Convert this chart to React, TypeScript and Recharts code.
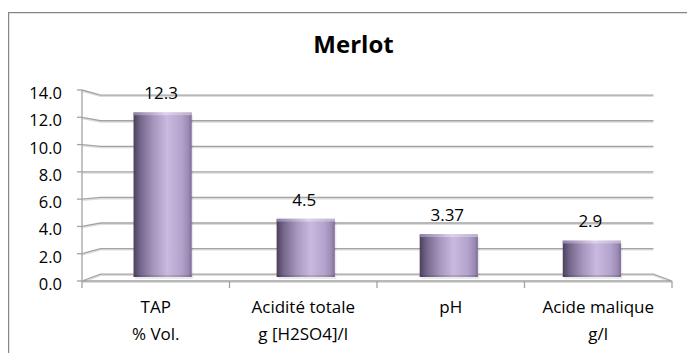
import React from 'react';
import { BarChart, Bar, XAxis, YAxis, CartesianGrid, LabelList } from 'recharts';

// ---- data ----
const categoryLine1 = ['TAP', 'Acidité totale', 'pH', 'Acide malique'];
const categoryLine2 = ['% Vol.', 'g [H2SO4]/l', '', 'g/l'];
const values = [12.3, 4.5, 3.37, 2.9];
const valueLabels = ['12.3', '4.5', '3.37', '2.9'];
const yTicks = [0, 2, 4, 6, 8, 10, 12, 14];
const title = 'Merlot';

const data = categoryLine1.map((c, i) => ({ name: c, sub: categoryLine2[i], value: values[i], label: valueLabels[i] }));

// ---- layout ----
const W = 687;
const H = 345;
const YW = 74;
const XH = 60;
const MARGIN = { top: 82, right: 23, bottom: 12, left: 0 };
const PLOT_L = MARGIN.left + YW;
const PLOT_R = W - MARGIN.right;
const PLOT_T = MARGIN.top;
const PLOT_B = H - MARGIN.bottom - XH;
const VPX = (PLOT_L + PLOT_R) / 2;
const VPY = PLOT_T + 0.43 * (PLOT_B - PLOT_T);
const K_BACK = 0.937;
const K_BAR = 0.97;
const K_BAR_BOTTOM = 0.963;
const FONT = '"Open Sans", "DejaVu Sans", sans-serif';
const GRID = '#a3a3a3';

const persp = (x: number, y: number, k: number): [number, number] => [VPX + k * (x - VPX), VPY + k * (y - VPY)];

const GridLine = (p: any) => {
  const { x1, x2, y1 } = p;
  const [bx1, by] = persp(x1, y1, K_BACK);
  const [bx2] = persp(x2, y1, K_BACK);
  const isFloor = Math.abs(y1 - PLOT_B) < 0.5;
  const d = isFloor
    ? `M${x1},${y1}L${bx1},${by}L${bx2},${by}L${x2},${y1}Z`
    : `M${x1},${y1}L${bx1},${by}L${bx2},${by}`;
  return (
    <g key={p.key ?? `g${y1}`}>
      <path d={d} transform="translate(0,1.3)" stroke="#dcdcdc" strokeWidth={1.3} fill="none" />
      <path d={d} stroke={GRID} strokeWidth={1.3} fill="none" />
    </g>
  );
};

const BarShape = (p: any) => {
  const { x, y, width, height } = p;
  if (width == null || height == null) return null;
  const cx = x + width / 2;
  const [pcx] = persp(cx, y, K_BAR);
  const w = width * K_BAR;
  const bottom = persp(cx, y + height, K_BAR_BOTTOM)[1];
  const left = pcx - w / 2;
  return (
    <g>
      <rect x={left + 1.5} y={y + 2} width={w} height={bottom - y} fill="#000" opacity={0.08} />
      <rect x={left} y={y} width={w} height={bottom - y} fill="url(#barGrad)" />
      <rect x={left} y={y - 1} width={w} height={3} fill="url(#topGrad)" />
      <rect x={left} y={bottom - 2} width={w} height={2} fill="#000" opacity={0.12} />
    </g>
  );
};

const ValueLabel = (p: any) => {
  const { x, y, width, value } = p;
  const [cx] = persp(x + width / 2, y, K_BAR);
  return (
    <text x={cx - 1.5} y={y - 14} textAnchor="middle" fontFamily={FONT} fontSize={17} fill="#000">
      {value}
    </text>
  );
};

const XTick = (p: any) => {
  const { x, payload, index } = p;
  const half = (PLOT_R - PLOT_L) / categoryLine1.length / 2;
  const i = index ?? categoryLine1.indexOf(payload.value);
  return (
    <g>
      <line x1={x - half} x2={x - half} y1={PLOT_B} y2={PLOT_B + 7} stroke={GRID} strokeWidth={1.3} />
      {i === categoryLine1.length - 1 && (
        <line x1={x + half} x2={x + half} y1={PLOT_B} y2={PLOT_B + 7} stroke={GRID} strokeWidth={1.3} />
      )}
      <text x={x} y={PLOT_B + 32} textAnchor="middle" fontFamily={FONT} fontSize={17} fill="#000">
        {categoryLine1[i]}
      </text>
      {categoryLine2[i] !== '' && (
        <text x={x} y={PLOT_B + 59} textAnchor="middle" fontFamily={FONT} fontSize={17} fill="#000">
          {categoryLine2[i]}
        </text>
      )}
    </g>
  );
};

const YTick = (p: any) => {
  const { x, y, payload } = p;
  return (
    <text x={x} y={y + 9} textAnchor="end" fontFamily={FONT} fontSize={16.5} fill="#000">
      {Number(payload.value).toFixed(1)}
    </text>
  );
};

export default function App() {
  return (
    <div style={{ position: 'relative', width: W, height: H, overflow: 'hidden', background: '#fff' }}>
      <BarChart width={W} height={H} data={data} margin={MARGIN} barSize={60}>
        <defs>
          <linearGradient id="barGrad" x1="0" y1="0" x2="1" y2="0">
            <stop offset="0%" stopColor="#4b405c" />
            <stop offset="12%" stopColor="#75678b" />
            <stop offset="35%" stopColor="#a797bf" />
            <stop offset="58%" stopColor="#c9b9df" />
            <stop offset="82%" stopColor="#b4a3cc" />
            <stop offset="94%" stopColor="#9c8bb4" />
            <stop offset="100%" stopColor="#7e6e96" />
          </linearGradient>
          <linearGradient id="topGrad" x1="0" y1="0" x2="1" y2="0">
            <stop offset="0%" stopColor="#8e80a3" />
            <stop offset="55%" stopColor="#ddd2ec" />
            <stop offset="100%" stopColor="#bcb0cc" />
          </linearGradient>
        </defs>
        <CartesianGrid vertical={false} horizontal={GridLine as any} />
        <XAxis
          dataKey="name"
          height={XH}
          axisLine={false}
          tickLine={false}
          interval={0}
          tick={XTick as any}
        />
        <YAxis
          width={YW}
          domain={[0, 14]}
          ticks={yTicks}
          interval={0}
          axisLine={{ stroke: GRID, strokeWidth: 1.3 }}
          tickLine={{ stroke: GRID, strokeWidth: 1.3 }}
          tickSize={5}
          tickMargin={15}
          tick={YTick as any}
        />
        <Bar dataKey="value" shape={BarShape as any} isAnimationActive={false}>
          <LabelList dataKey="label" content={ValueLabel as any} />
        </Bar>
      </BarChart>
      <svg width={W} height={H} style={{ position: 'absolute', left: 0, top: 0, pointerEvents: 'none' }}>
        <path d={`M0.6,${H + 10}L0.6,4.6L${W + 10},4.6`} stroke="#868686" strokeWidth={1.2} fill="none" />
        <text x={345.5} y={45} textAnchor="middle" fontFamily={FONT} fontWeight="bold" fontSize={24} fill="#000">
          {title}
        </text>
      </svg>
    </div>
  );
}
